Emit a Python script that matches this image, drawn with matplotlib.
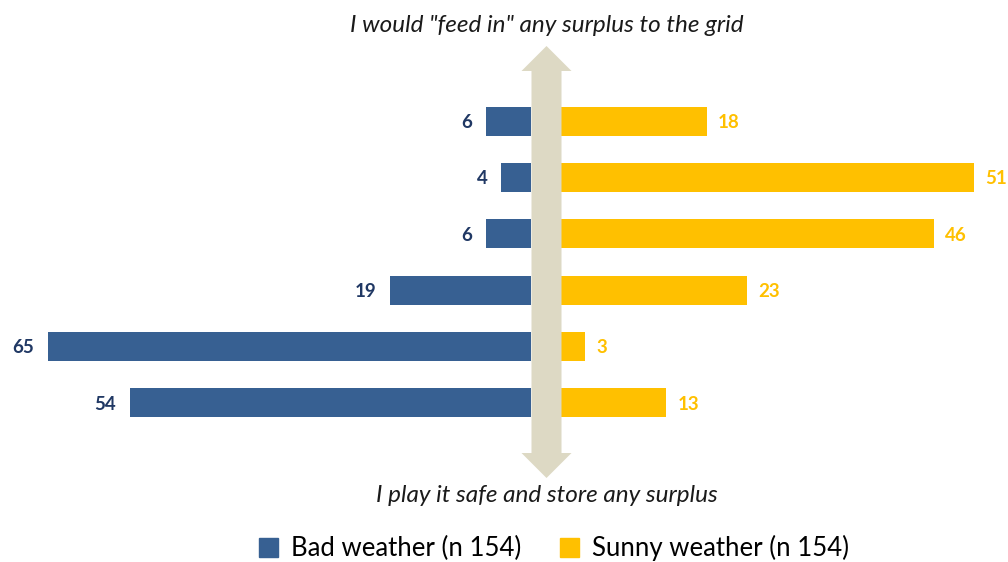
import matplotlib
matplotlib.use("Agg")
import matplotlib.pyplot as plt
from matplotlib.patches import Patch, FancyArrow

plt.rcParams['font.family'] = ['Lato', 'DejaVu Sans']

# Survey answers, one row per statement (top to bottom)
rows = ["r1", "r2", "r3", "r4", "r5", "r6"]
bad_weather = [6, 4, 6, 19, 65, 54]
sunny_weather = [18, 51, 46, 23, 3, 13]

series_names = ["Bad weather (n 154)", "Sunny weather (n 154)"]
top_caption = 'I would "feed in" any surplus to the grid'
bottom_caption = "I play it safe and store any surplus"

BLUE = "#376092"
BLUE_TXT = "#203864"
GOLD = "#FFC000"
SAND = "#DDD9C4"

W, H = 1008, 562
fig = plt.figure(figsize=(W / 100, H / 100), dpi=100)

ax_bottom = 1 - 431 / H
ax_height = (431 - 93) / H

ax_l = fig.add_axes([0 / W, ax_bottom, 531 / W, ax_height])
ax_r = fig.add_axes([561 / W, ax_bottom, (W - 561) / W, ax_height])

ypos = list(range(len(rows)))
bar_h = 0.52

ax_l.barh(ypos, bad_weather, height=bar_h, color=BLUE)
ax_l.set_xlim(71.5, 0)
ax_r.barh(ypos, sunny_weather, height=bar_h, color=GOLD)
ax_r.set_xlim(0, 55.2)

for ax in (ax_l, ax_r):
    ax.set_ylim(len(rows) - 0.5, -0.5)
    ax.axis("off")

for y, v in zip(ypos, bad_weather):
    ax_l.annotate(str(v), (v, y), xytext=(-10, -1), textcoords="offset points",
                  ha="right", va="center", fontsize=13.5, fontweight="bold",
                  color=BLUE_TXT)
for y, v in zip(ypos, sunny_weather):
    ax_r.annotate(str(v), (v, y), xytext=(8, -1), textcoords="offset points",
                  ha="left", va="center", fontsize=13.5, fontweight="bold",
                  color=GOLD)

# Double-headed vertical arrow between the two sides
ov = fig.add_axes([0, 0, 1, 1], zorder=5)
ov.set_xlim(0, W)
ov.set_ylim(H, 0)
ov.axis("off")
ov.patch.set_alpha(0)
cx = 546.5
mid = (46 + 478) / 2
for tip in (46, 478):
    ov.add_patch(FancyArrow(cx, mid, 0, tip - mid, width=30, head_width=50,
                            head_length=25, length_includes_head=True,
                            color=SAND, lw=0))

fig.text(cx / W, 1 - 25 / H, top_caption, ha="center", va="center",
         fontsize=17.5, style="italic", color="#1a1a1a")
fig.text(cx / W, 1 - 495 / H, bottom_caption, ha="center", va="center",
         fontsize=17.5, style="italic", color="#1a1a1a")

handles = [Patch(color=BLUE), Patch(color=GOLD)]
fig.legend(handles, series_names, loc="center", bbox_to_anchor=(554 / W, 1 - 548 / H),
           ncol=2, frameon=False, fontsize=18.5, handlelength=0.75, handleheight=0.75,
           handletextpad=0.5, columnspacing=1.5)

fig.savefig("out.png", dpi=100)
